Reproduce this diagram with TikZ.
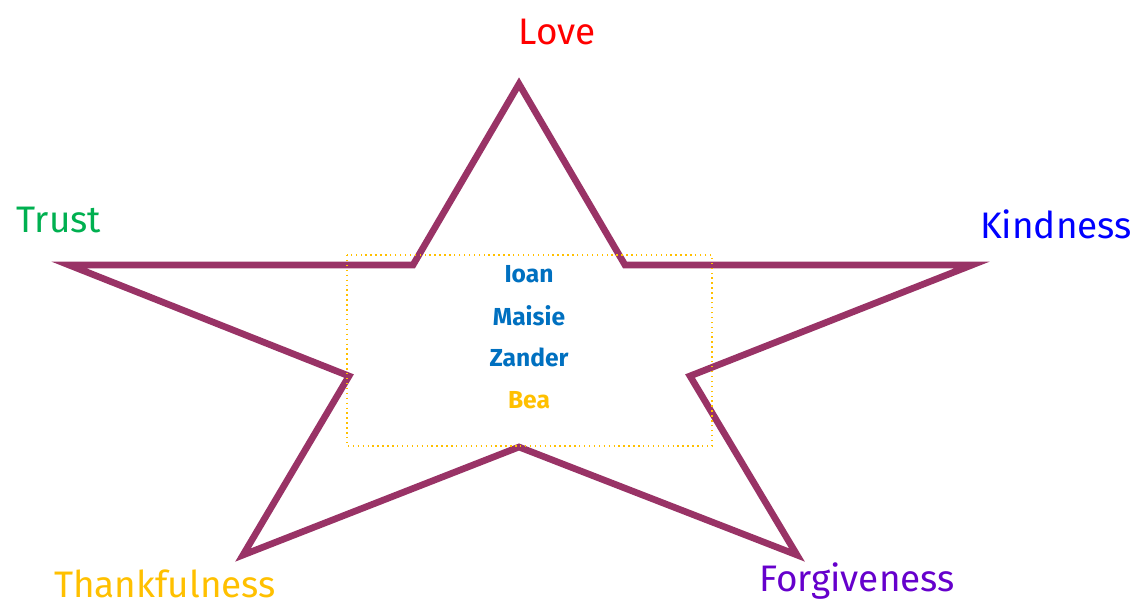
\documentclass[tikz,border=0pt]{standalone}
\usepackage{fontspec}
\setmainfont{Fira Sans}
\usetikzlibrary{positioning}
\definecolor{StarPlum}{HTML}{993366}
\definecolor{LoveRed}{HTML}{FF0000}
\definecolor{TrustGreen}{HTML}{00B050}
\definecolor{KindBlue}{HTML}{0000FF}
\definecolor{ThankGold}{HTML}{FFC000}
\definecolor{ForgivePurple}{HTML}{6600CC}
\definecolor{NameBlue}{HTML}{0070C0}
\tikzset{
  valuelabel/.style={font=\fontsize{21}{25}\selectfont, inner sep=0pt},
  personname/.style={font=\fontsize{14}{17}\selectfont\bfseries, text=NameBlue, inner sep=0pt},
  starline/.style={draw=StarPlum, line width=3.8pt, line join=miter},
  namebox/.style={draw=ThankGold, dotted, line width=0.8pt}
}
\begin{document}
\begin{tikzpicture}[x=0.02cm, y=-0.02cm]
    \useasboundingbox (0,0) rectangle (1135,606);
    % star points
    \coordinate (top) at (519,84);
    \coordinate (inTR) at (625,265);
    \coordinate (right) at (972,265);
    \coordinate (inR) at (690,376);
    \coordinate (botR) at (797,555);
    \coordinate (inB) at (519,447);
    \coordinate (botL) at (243,555);
    \coordinate (inL) at (349,376);
    \coordinate (left) at (69,265);
    \coordinate (inTL) at (413,265);
    \draw[starline] (top) -- (inTR) -- (right) -- (inR) -- (botR) -- (inB)
        -- (botL) -- (inL) -- (left) -- (inTL) -- cycle;

    % box of names
    \draw[namebox] (347,255) rectangle (712,446);
    \node[personname] (ioan) at (529,274) {Ioan};
    \node[personname] (maisie) at (529,316) {Maisie};
    \node[personname] (zander) at (529,357) {Zander};
    \node[personname, text=ThankGold] (bea) at (529,400) {Bea};

    % values
    \node[valuelabel, text=LoveRed] (love) at (557,32) {Love};
    \node[valuelabel, text=TrustGreen] (trust) at (59,220) {Trust};
    \node[valuelabel, text=KindBlue] (kind) at (1056,224) {Kindness};
    \node[valuelabel, text=ThankGold] (thank) at (165,584) {Thankfulness};
    \node[valuelabel, text=ForgivePurple] (forgive) at (857,581) {Forgiveness};
\end{tikzpicture}
\end{document}
